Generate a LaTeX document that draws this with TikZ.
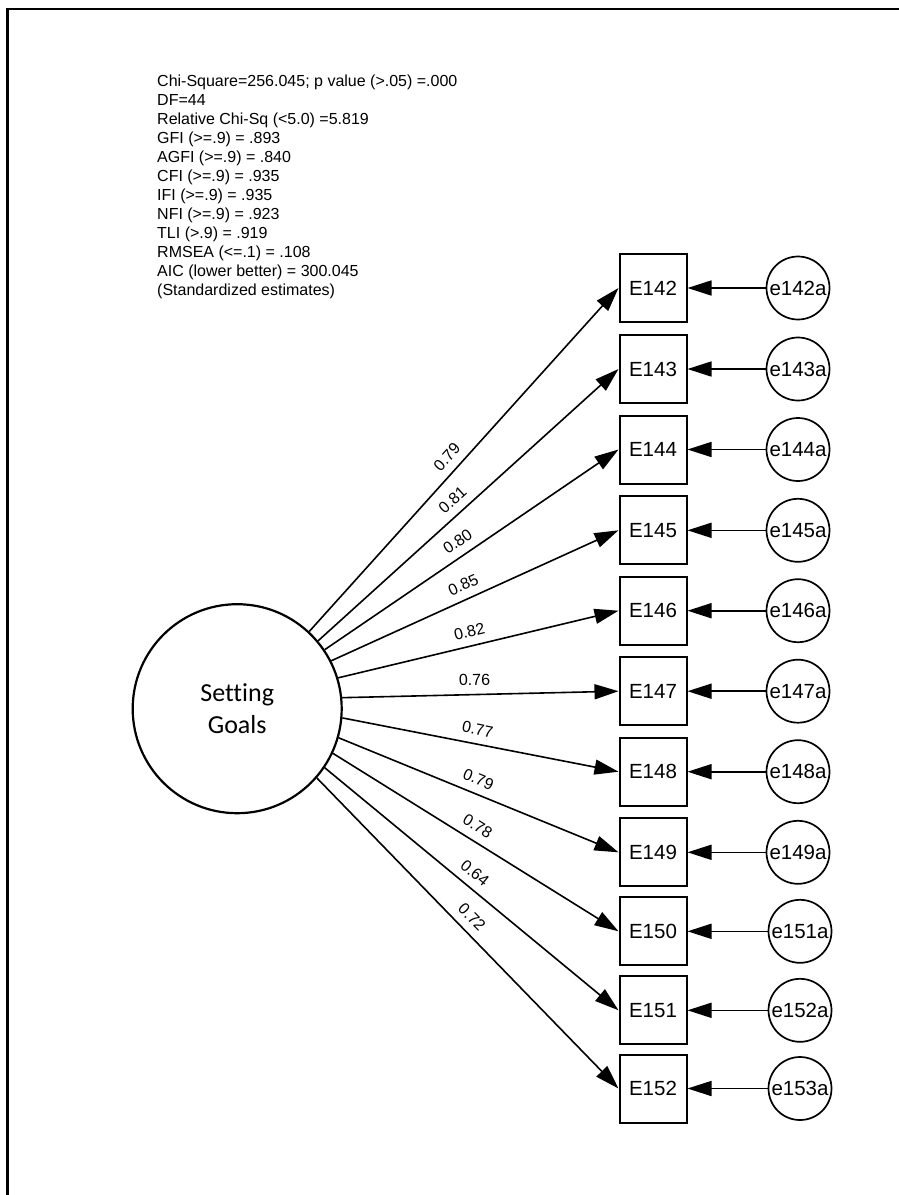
\documentclass[tikz,border=0pt]{standalone}
\usepackage{fontspec}
\setmainfont{Liberation Sans}
\newfontfamily\calib[Ligatures=NoCommon]{Carlito}
\usetikzlibrary{arrows.meta}
\tikzset{
  obs/.style={draw, line width=2pt, minimum width=67pt, minimum height=68pt, inner sep=0pt, font=\fontsize{20.5}{24}\selectfont},
  err/.style={circle, draw, line width=1.7pt, minimum size=63pt, inner sep=0pt, font=\fontsize{20.5}{24}\selectfont},
  lat/.style={circle, draw, line width=2.2pt, minimum size=209pt, inner sep=0pt, align=center, font=\calib\fontsize{26}{31.2}\selectfont},
  arr/.style={draw, line width=1.6pt, -{Triangle[length=24pt,width=15pt]}},
  lbl/.style={sloped, above=8pt, pos=0.48, inner sep=0pt, font=\fontsize{16}{19}\selectfont},
  stat/.style={anchor=base west, inner sep=0pt, font=\fontsize{16}{19}\selectfont},
  frame/.style={line width=2.7pt}
}
\begin{document}
\begin{tikzpicture}[x=1pt,y=-1pt]
\useasboundingbox (0,0) rectangle (899,1195);
\draw[frame] (7.5,1195) -- (7.5,9) -- (899,9);
\foreach \t [count=\i from 0] in {{Chi-Square=256.045; p value (>.05) =.000},{DF=44},{Relative Chi-Sq (<5.0) =5.819},{GFI (>=.9) = .893},{AGFI (>=.9) = .840},{CFI (>=.9) = .935},{IFI (>=.9) = .935},{NFI (>=.9) = .923},{TLI (>.9) = .919},{RMSEA (<=.1) = .108},{AIC (lower better) = 300.045},{(Standardized estimates)}}
  \node[stat] (s\i) at (157,86+19*\i) {\t};
\node[lat] (lat) at (237.2,708.7) {\raisebox{-3pt}{Setting}\\\raisebox{-3pt}{Goals}};
\foreach \n/\y/\ang/\lab/\ex/\en in {
  142/288/47/0.79/798/e142a,
  143/369/40.6/0.81/798/e143a,
  144/449.5/34.3/0.80/798/e144a,
  145/530.3/27/0.85/798/e145a,
  146/610.7/17.6/0.82/798/e146a,
  147/691.2/6.6/0.76/798/e147a,
  148/771.7/355.6/0.77/798/e148a,
  149/852.3/344.5/0.79/798/e149a,
  150/931.3/335.1/0.78/800/e151a,
  151/1010.3/326.3/0.64/800/e152a,
  152/1088.5/319.6/0.72/800/e153a}{
  \node[obs] (E\n) at (653,\y) {E\n};
  \node[err] (\en) at (\ex,\y) {\en};
  \draw[arr] (\en) -- (E\n);
  \draw[arr] (lat.\ang) -- node[lbl] {\lab} (E\n.west);
}
\end{tikzpicture}
\end{document}
